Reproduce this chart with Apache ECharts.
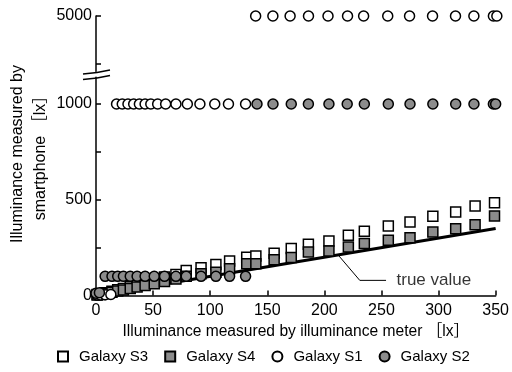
<!DOCTYPE html>
<html>
<head>
<meta charset="utf-8">
<script src="https://cdn.jsdelivr.net/npm/echarts@6/dist/echarts.min.js"></script>
<style>html,body{margin:0;padding:0;background:#fff}#c{width:512px;height:372px}</style>
</head>
<body>
<div id="c"></div>
<script>
// ---- data ----
const xS3 = [1,4,8,14,19,24,30,36,43,51,60,70,79,92,105,117,132,140,156,171,186,204,221,235,256,275,295,315,332,349];
const yS3 = [5,8,14,22,30,37,46,56,68,80,96,110,131,145,162,180,200,206,221,245,267,284,314,335,363,384,414,436,468,485];
const xS4 = [1,4,8,14,19,24,30,36,43,51,60,70,79,92,105,117,132,140,156,171,186,204,221,235,256,275,295,315,332,349];
const yS4 = [2,5,10,17,23,29,36,44,52,62,73,86,100,114,122,140,166,166,187,199,227,232,253,271,288,302,331,349,370,415];
const xS1 = [1,4,8,13,18,23,28,33,38,43,48,54,61,70,80,91,104,116,131,139,154,169,185,202,219,233,254,273,293,313,329,346,349];
const yS1 = [2,3,4,5,1000,1000,1000,1000,1000,1000,1000,1000,1000,1000,1000,1000,1000,1000,1000,5000,5000,5000,5000,5000,5000,5000,5000,5000,5000,5000,5000,5000,5000];
const xS2 = [0,3,8,14,19,24,30,36,43,51,60,70,79,92,105,117,131,141,155,171,186,204,220,235,256,275,295,315,331,348,350];
const yS2 = [12,15,100,100,100,100,100,100,100,100,100,100,100,100,100,100,100,1000,1000,1000,1000,1000,1000,1000,1000,1000,1000,1000,1000,1000,1000];
const trueX = [0, 350];
const trueY = [0, 350];
const leadX = [212, 231, 254];
const leadY = [212, 79, 79];
const leadText = 'true value';
const xTicks = [0,50,100,150,200,250,300,350];
const yLowTicks = [0,250,500,750,1000];
const yLowLabels = [0,500,1000];
const yHighTicks = [4750,5000];
const yHighLabels = [5000];
const names = ['Galaxy S3','Galaxy S4','Galaxy S1','Galaxy S2'];

const FONT = "'Liberation Sans', Arial, 'Noto Sans CJK JP', sans-serif";
const BREAK = 1140;
const GRAY = '#8c8c8c';
const FS = 16;

function pairs(xs, ys, filt) {
  const out = [];
  for (let i = 0; i < xs.length; i++) if (filt(ys[i])) out.push([xs[i], ys[i]]);
  return out;
}
const low = v => v <= BREAK, high = v => v > BREAK;

const styles = {
  'Galaxy S3': {symbol: 'rect', color: '#ffffff'},
  'Galaxy S4': {symbol: 'rect', color: GRAY},
  'Galaxy S1': {symbol: 'circle', color: '#ffffff'},
  'Galaxy S2': {symbol: 'circle', color: GRAY}
};
const raw = {
  'Galaxy S3': [xS3, yS3], 'Galaxy S4': [xS4, yS4],
  'Galaxy S1': [xS1, yS1], 'Galaxy S2': [xS2, yS2]
};

const series = [];
series.push({
  type: 'line', xAxisIndex: 1, yAxisIndex: 1, name: 'true value',
  data: trueX.map((x, i) => [x, trueY[i]]),
  symbol: 'none', lineStyle: {color: '#000', width: 3}, z: 1, silent: true
});
series.push({
  type: 'line', xAxisIndex: 1, yAxisIndex: 1, name: 'leader',
  data: leadX.map((x, i) => [x, leadY[i]]),
  symbol: 'none', lineStyle: {color: '#000', width: 1}, z: 1, silent: true
});
series.push({
  type: 'scatter', xAxisIndex: 1, yAxisIndex: 1, name: 'leaderText',
  data: [[leadX[leadX.length - 1], leadY[leadY.length - 1]]],
  symbolSize: 1, itemStyle: {color: 'rgba(0,0,0,0)'},
  label: {show: true, formatter: leadText, position: 'right', distance: 10,
    color: '#000', fontSize: 17, fontFamily: FONT},
  z: 1, silent: true
});
names.forEach(n => {
  const st = styles[n];
  const common = {
    type: 'scatter', name: n, symbol: st.symbol, symbolSize: 10,
    itemStyle: {color: st.color, borderColor: '#000', borderWidth: 1.5, opacity: 1},
    z: 3, silent: true
  };
  const [xs, ys] = raw[n];
  const lo = pairs(xs, ys, low), hi = pairs(xs, ys, high);
  series.push(Object.assign({}, common, {xAxisIndex: 1, yAxisIndex: 1, data: lo}));
  if (hi.length) series.push(Object.assign({}, common, {xAxisIndex: 0, yAxisIndex: 0, data: hi}));
});

const axisLineStyle = {color: '#000', width: 1.5};
const fmt = v => String(v);
const option = {
  animation: false,
  backgroundColor: '#fff',
  textStyle: {fontFamily: FONT, color: '#000'},
  grid: [
    {left: 96, right: 14, top: 16, height: 55.5},
    {left: 96, right: 14, top: 77.2, bottom: 76.5}
  ],
  xAxis: [
    {gridIndex: 0, type: 'value', min: 0, max: 350, show: false},
    {gridIndex: 1, type: 'value', min: 0, max: 350, interval: 50,
      axisLine: {show: true, onZero: false, lineStyle: axisLineStyle},
      axisTick: {show: true, inside: true, length: 5, lineStyle: {color: '#000', width: 1.5}, customValues: xTicks},
      axisLabel: {show: true, color: '#000', fontSize: FS, fontFamily: FONT, margin: 7, customValues: xTicks, formatter: fmt},
      splitLine: {show: false},
      name: 'Illuminance measured by illuminance meter ［lx］',
      nameLocation: 'middle', nameGap: 23,
      nameTextStyle: {color: '#000', fontSize: 15.6, fontFamily: FONT}
    }
  ],
  yAxis: [
    {gridIndex: 0, type: 'value', min: 4710, max: 5000,
      axisLine: {show: true, onZero: false, lineStyle: axisLineStyle},
      axisTick: {show: true, inside: true, length: 5, lineStyle: {color: '#000', width: 1.5}, customValues: yHighTicks},
      axisLabel: {show: true, color: '#000', fontSize: FS, fontFamily: FONT, margin: 4, customValues: yHighLabels, formatter: fmt},
      splitLine: {show: false}
    },
    {gridIndex: 1, type: 'value', min: 0, max: BREAK,
      axisLine: {show: true, onZero: false, lineStyle: axisLineStyle},
      axisTick: {show: true, inside: true, length: 5, lineStyle: {color: '#000', width: 1.5}, customValues: yLowTicks},
      axisLabel: {show: true, color: '#000', fontSize: FS, fontFamily: FONT, margin: 4, customValues: yLowLabels, formatter: fmt},
      splitLine: {show: false}
    }
  ],
  legend: {
    data: names, left: 52, top: 344, itemWidth: 10, itemHeight: 10, itemGap: 16,
    textStyle: {color: '#000', fontSize: 15, fontFamily: FONT, padding: [0, 0, 0, 6]},
    selectedMode: false
  },
  graphic: [
    {type: 'text', x: 29, y: 154, rotation: Math.PI / 2,
      style: {text: 'Illuminance measured by\nsmartphone ［lx］', align: 'center', verticalAlign: 'middle',
        font: FS + 'px ' + FONT, lineHeight: 23, fill: '#000'}},
    {type: 'polyline', shape: {points: [[83, 74], [97, 72.5], [110, 70]]}, style: {stroke: '#000', lineWidth: 1.5, fill: null}},
    {type: 'polyline', shape: {points: [[83, 79.5], [97, 78], [110, 75.5]]}, style: {stroke: '#000', lineWidth: 1.5, fill: null}}
  ],
  series: series
};
const chart = echarts.init(document.getElementById('c'), null, {renderer: 'canvas'});
chart.setOption(option);
</script>
</body>
</html>
